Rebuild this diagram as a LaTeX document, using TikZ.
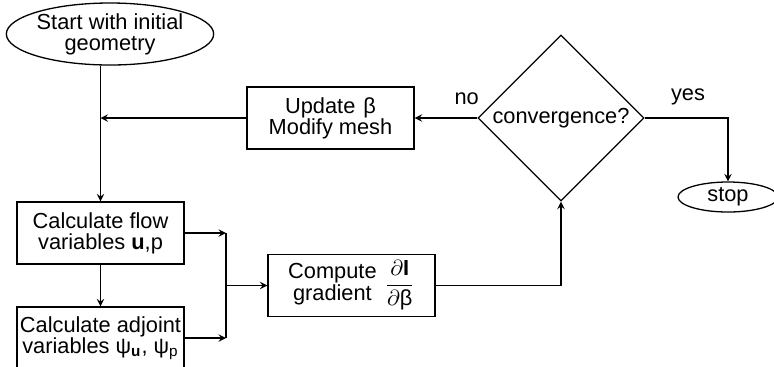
\documentclass[tikz,border=0pt]{standalone}
\usepackage{fontspec}
\setmainfont{Liberation Sans}
\usetikzlibrary{shapes.geometric,arrows}
\tikzset{
  stepbox/.style={draw, minimum width=83.5pt, minimum height=31pt, align=center, inner sep=1pt},
  terminal/.style={draw, ellipse, align=center, inner sep=0pt},
  decision/.style={draw, diamond, minimum width=83pt, minimum height=83pt, inner sep=0pt},
}
\begin{document}
\begin{tikzpicture}[>=stealth, x=0.5pt, y=-0.5pt, line width=0.65pt,
    font=\fontsize{10.9}{10.6}\selectfont]
        \useasboundingbox (0,0) rectangle (774,366);
        % nodes
        \node[terminal, minimum width=103pt, minimum height=31pt] (start) at (110,34) {Start with initial\\geometry};
        \node[stepbox] (flow) at (100.5,233) {Calculate flow\\variables \textbf{u},p};
        \node[stepbox] (adjoint) at (100.5,338) {Calculate adjoint\\variables ψ\textsubscript{\textbf{u}}, ψ\textsubscript{p}};
        \node[stepbox] (grad) at (351.5,285.5) {\begin{tabular}{@{}c@{}}Compute\\gradient\end{tabular}\hspace{4pt}%
          $\displaystyle\frac{\partial\mbox{\textbf{I}}}{\partial\mbox{β}}$};
        \node[stepbox] (update) at (330.5,118) {Update\hspace{4pt}β\\Modify mesh};
        \node[decision] (conv) at (561,118) {convergence?};
        \node[terminal, minimum width=50pt, minimum height=15pt] (stop) at (728,197) {stop};
        \coordinate (join) at (226,285.5);
        % connectors
        \draw[->] (start.south -| flow.north) -- (flow.north);
        \draw[->] (flow) -- (adjoint);
        \draw[->] (flow.east) -- (flow.east -| join);
        \draw[->] (adjoint.east) -- (adjoint.east -| join);
        \draw (flow.east -| join) -- (adjoint.east -| join);
        \draw[->] (join) -- (grad.west);
        \draw[->] (grad.east) -| (conv.south);
        \draw[->] (conv.west) -- node[pos=0.17, above=3pt] {no} (update.east);
        \draw[->] (update.west) -- (update.west -| flow.north);
        \draw[->] (conv.east) -| node[pos=0.5, above=3pt, xshift=-20pt] {yes} (stop.north);
\end{tikzpicture}
\end{document}
